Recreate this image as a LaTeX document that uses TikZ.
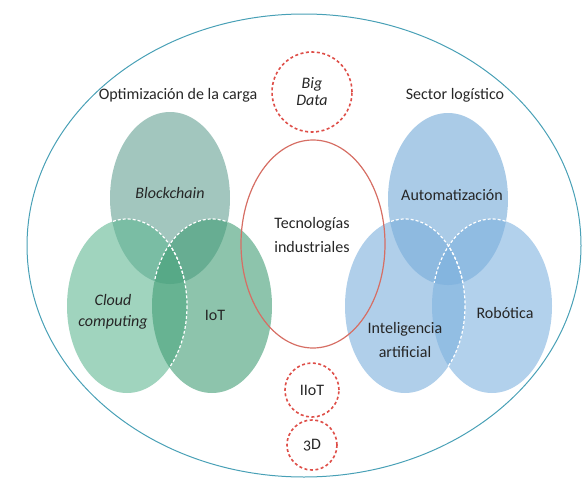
\documentclass[tikz,border=0pt]{standalone}
\usepackage{fontspec}
\setmainfont{Carlito}
\definecolor{txtgray}{RGB}{38,38,38}
\definecolor{rimblue}{RGB}{72,160,182}
\definecolor{tecred}{RGB}{214,110,100}
\definecolor{tagred}{RGB}{222,78,72}
\definecolor{blockgreen}{RGB}{100,160,147}
\definecolor{cloudgreen}{RGB}{97,183,147}
\definecolor{iotgreen}{RGB}{65,157,117}
\definecolor{autoblue}{RGB}{113,168,215}
\definecolor{iablue}{RGB}{123,175,220}
\definecolor{roboblue}{RGB}{127,178,223}

\begin{document}
\begin{tikzpicture}[x=1pt, y=-1pt,
    lbl/.style={text=txtgray, font=\fontsize{16}{22}\selectfont, align=center, inner sep=0pt},
    blob/.style={fill opacity=.6},
    seam/.style={white, line width=1.2pt, dash pattern=on 3pt off 2pt},
    tag/.style={circle, draw=tagred, line width=1.6pt, dash pattern=on 3pt off 2.5pt, text=txtgray, font=\fontsize{16}{15}\selectfont, align=center, inner sep=0pt}]
    \useasboundingbox (0,0) rectangle (584,479);

    % outer ring
    \draw[rimblue, line width=1pt] (304,245.5) ellipse [x radius=277, y radius=231.5];

    % left group
    \fill[blob, blockgreen] (170,198) ellipse [x radius=60, y radius=86];
    \fill[blob, cloudgreen] (127,306) ellipse [x radius=60, y radius=87];
    \fill[blob, iotgreen] (212,306) ellipse [x radius=60, y radius=87];
    \begin{scope}
        \clip (170,198) ellipse [x radius=60, y radius=86];
        \draw[seam] (127,306) ellipse [x radius=60, y radius=87];
        \draw[seam] (212,306) ellipse [x radius=60, y radius=87];
    \end{scope}
    \begin{scope}
        \clip (212,306) ellipse [x radius=60, y radius=87];
        \draw[seam] (127,306) ellipse [x radius=60, y radius=87];
    \end{scope}

    % right group
    \fill[blob, autoblue] (448,199) ellipse [x radius=60, y radius=86];
    \fill[blob, iablue] (405,306) ellipse [x radius=60, y radius=87];
    \fill[blob, roboblue] (492,306) ellipse [x radius=60, y radius=87];
    \begin{scope}
        \clip (448,199) ellipse [x radius=60, y radius=86];
        \draw[seam] (405,306) ellipse [x radius=60, y radius=87];
        \draw[seam] (492,306) ellipse [x radius=60, y radius=87];
    \end{scope}
    \begin{scope}
        \clip (492,306) ellipse [x radius=60, y radius=87];
        \draw[seam] (405,306) ellipse [x radius=60, y radius=87];
    \end{scope}

    % centre
    \draw[tecred, line width=1.2pt] (313,244) ellipse [x radius=72, y radius=104];

    \node[lbl] (optim) at (178,95) {Optimización de la carga};
    \node[lbl] (sector) at (455,95) {Sector logístico};
    \node[lbl, font=\fontsize{16}{22}\selectfont\itshape] (block) at (170,193) {Blockchain};
    \node[lbl, font=\fontsize{16}{21}\selectfont\itshape] (cloud) at (113,312) {Cloud\\computing};
    \node[lbl] (iot) at (215,315) {IoT};
    \node[lbl] (auto) at (452,195) {Automatización};
    \node[lbl] (robo) at (505,313) {Robótica};
    \node[lbl, font=\fontsize{16}{24}\selectfont] (ia) at (405,340) {Inteligencia\\artificial};
    \node[lbl, font=\fontsize{16}{24}\selectfont] (tec) at (312,235) {Tecnologías\\industriales};

    \node[tag, minimum size=80pt, font=\fontsize{16}{17}\selectfont\itshape] (bigdata) at (312,92) {Big\\Data};
    \node[tag, minimum size=54pt] (iiot) at (312,390) {IIoT};
    \node[tag, minimum size=50pt, font=\fontsize{16}{15}\selectfont\addfontfeatures{Numbers=OldStyle}] (tresd) at (312,445) {3D};
\end{tikzpicture}
\end{document}
